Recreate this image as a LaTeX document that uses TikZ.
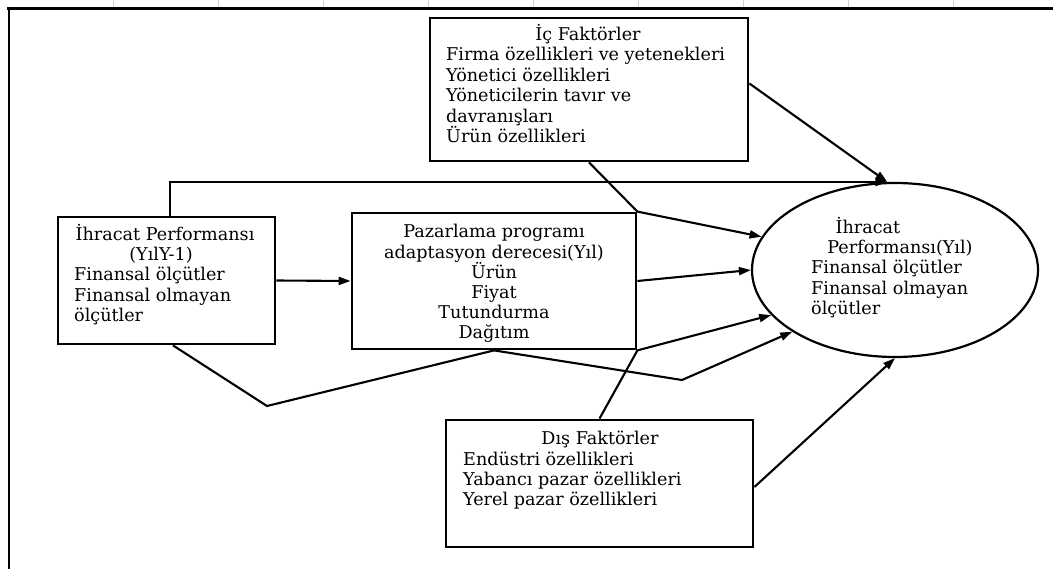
\documentclass[tikz,border=0pt]{standalone}
\usepackage{fontspec}
\setmainfont{DejaVu Serif}
\usetikzlibrary{arrows.meta,calc,shapes.geometric}
\begin{document}
\begin{tikzpicture}[x=1pt,y=-1pt,
  box/.style={draw, line width=2.8pt, inner sep=0pt},
  conn/.style={line width=2.1pt, line join=miter},
  arr/.style={conn, -{Triangle[length=12pt,width=8pt]}},
  txt/.style={inner sep=0pt, font=\fontsize{17.6}{20.5}\selectfont},
  tick/.style={draw=gray!35, line width=0.8pt}]

% page area
\fill[white] (0,0) rectangle (1053,569);
\useasboundingbox (0,0) rectangle (1053,569);

% frame and ruler ticks
\foreach \k in {0,...,8}
  \draw[tick] ({113+105*\k},0) -- ({113+105*\k},7);
\draw[line width=3pt] (7,8.5) -- (1053,8.5);
\draw[line width=2pt] (8.5,8) -- (8.5,569);

% boxes
\node[box, minimum width=318pt, minimum height=143pt] (ic)  at (589,89.5) {};
\node[box, minimum width=217pt, minimum height=127pt] (ih)  at (166.5,280.5) {};
\node[box, minimum width=284pt, minimum height=136pt] (pz)  at (494,281) {};
\node[box, minimum width=307pt, minimum height=127pt] (dis) at (599.5,483.5) {};
\node[draw, line width=2.2pt, ellipse, inner sep=0pt,
      minimum width=286pt, minimum height=174pt] (el) at (895,270) {};

% internal factors
\node[txt, anchor=base] (ic-t) at (588,41) {İç Faktörler};
\foreach \t [count=\i] in {Firma özellikleri ve yetenekleri, Yönetici özellikleri,
    Yöneticilerin tavır ve, davranışları, Ürün özellikleri}
  \node[txt, anchor=base west] (ic-\i) at (446,{61+20.5*(\i-1)}) {\t};

% previous export performance
\node[txt, anchor=base] (ih-t1) at (165,241) {İhracat Performansı};
\node[txt, anchor=base] (ih-t2) at (161,261) {(YılY-1)};
\foreach \t [count=\i] in {Finansal ölçütler, Finansal olmayan, ölçütler}
  \node[txt, anchor=base west] (ih-\i) at (74,{281+20.5*(\i-1)}) {\t};

% marketing programme
\foreach \t [count=\i] in {Pazarlama programı, adaptasyon derecesi(Yıl), Ürün,
    Fiyat, Tutundurma, Dağıtım}
  \node[txt, anchor=base] (pz-\i) at (494,{238+20.2*(\i-1)}) {\t};

% external factors
\node[txt, anchor=base] (dis-t) at (600,444) {Dış Faktörler};
\foreach \t [count=\i] in {Endüstri özellikleri, Yabancı pazar özellikleri,
    Yerel pazar özellikleri}
  \node[txt, anchor=base west] (dis-\i) at (463,{465+20.2*(\i-1)}) {\t};

% export performance
\node[txt, anchor=base] (el-t1) at (868,234) {İhracat};
\node[txt, anchor=base] (el-t2) at (900,254) {Performansı(Yıl)};
\foreach \t [count=\i] in {Finansal ölçütler, Finansal olmayan, ölçütler}
  \node[txt, anchor=base west] (el-\i) at (811,{274+20.5*(\i-1)}) {\t};

% bend points
\coordinate (b1) at (267,406);
\coordinate (b2) at (682,380);

% connectors
\draw[arr] ($(ih.north)+(3.5,0)$) |- (el.95);
\draw[arr] ($(ic.east)+(0,-6)$) -- (el.95);
\draw[arr] (ih.east) -- (pz.west);
\draw[arr] (ic.south) -- (pz.north east) -- (el.166);
\draw[arr] (pz.east) -- (el.west);
\draw[arr] (dis.north) -- (pz.south east) -- (el.200);
\draw[arr] ($(ih.south)+(6.5,0)$) -- (b1) -- (pz.south) -- (b2) -- (el.211);
\draw[arr] ($(dis.east)+(0,3.5)$) -- (el.south);
\end{tikzpicture}
\end{document}
